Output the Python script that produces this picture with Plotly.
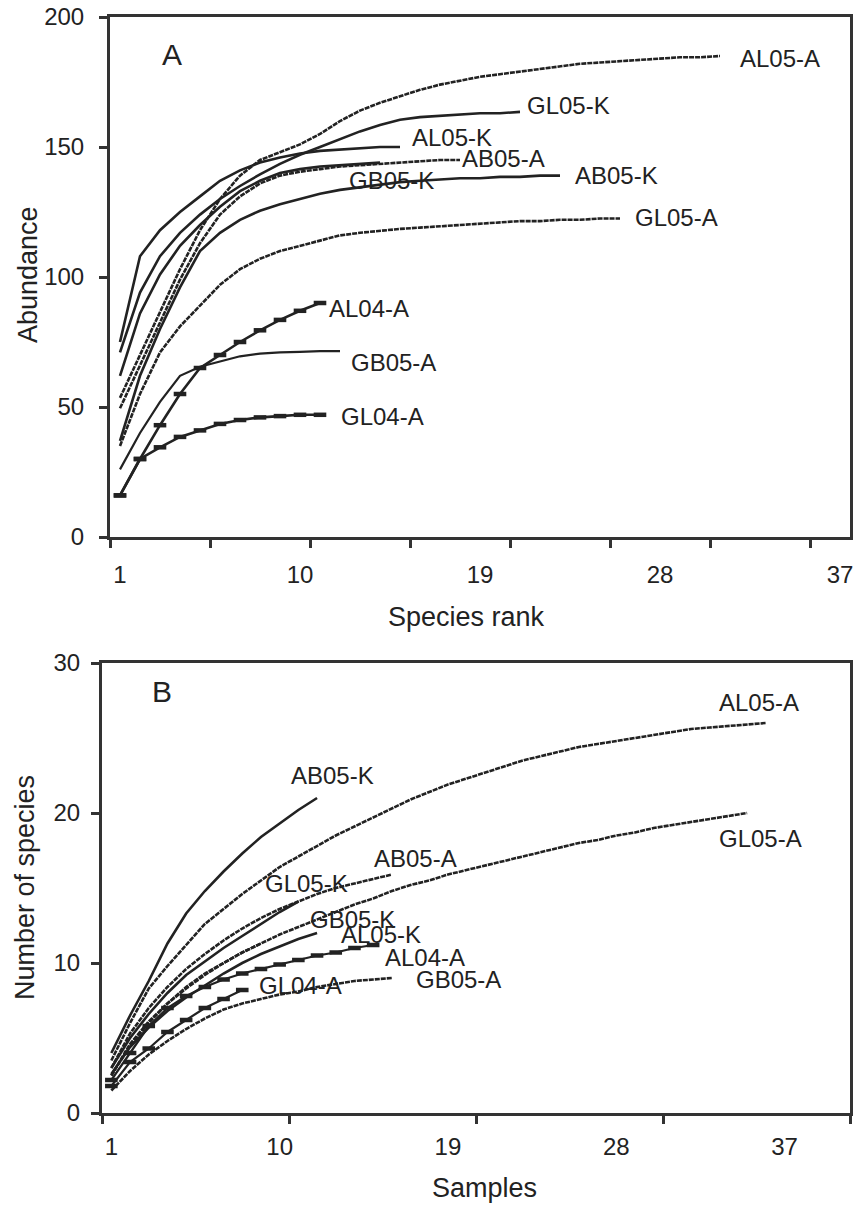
import plotly.graph_objects as go

# ---------------- Panel A: abundance vs species rank ----------------
A_AL05_A = [53.5, 70, 87, 103, 118, 130, 139, 145, 148, 151, 155, 160, 164, 167, 169.5, 172,
            174, 175.5, 177, 178, 179, 180, 181, 182, 182.5, 183, 183.5, 184, 184.5, 184.5, 185]
A_GL05_K = [71, 94, 108, 117, 124, 130, 135, 139.5, 143.5, 147, 150, 153, 156, 158.5, 160.5,
            161.5, 162, 162.5, 163, 163, 163.5]
A_AL05_K = [75, 108, 118, 125, 131, 137, 141, 144, 146, 147.5, 148.5, 149, 149.5, 150, 150]
A_AB05_A = [49.5, 66, 83, 99, 113, 124, 131, 136, 139, 140.5, 141.5, 142.5, 143, 143.5, 144,
            144.5, 145, 145]
A_GB05_K = [62, 86, 101, 112, 120, 127, 133, 137, 140, 141.5, 142.5, 143, 143.5, 144]
A_AB05_K = [37, 62, 80, 96, 110, 117, 122, 125.5, 128, 130, 132, 133.5, 134.5, 135.5, 136.5,
            137, 137.5, 138, 138, 138.5, 138.5, 139, 139]
A_GL05_A = [35, 55, 71, 81, 89, 97, 103, 107, 110, 112, 114, 116, 117, 117.8, 118.5, 119,
            119.5, 120, 120.5, 121, 121.5, 121.5, 122, 122, 122.5, 122.5]
A_AL04_A = [16, 30, 43, 55, 65, 70, 75, 79.5, 83.5, 87, 90]
A_GB05_A = [26, 40, 52, 62, 65.5, 67.5, 69.5, 70.5, 71, 71.2, 71.5, 71.5]
A_GL04_A = [16, 30, 34.5, 38.5, 41, 43.5, 45, 46, 46.5, 47, 47]

A_TICKS = [1, 10, 19, 28, 37]
A_YTICKS = [0, 50, 100, 150, 200]

# ---------------- Panel B: species vs samples ----------------
B_AL05_A = [3.5, 6, 8.3, 9.8, 11.2, 12.6, 13.6, 14.6, 15.5, 16.4, 17.1, 17.8, 18.5, 19.1,
            19.7, 20.3, 20.9, 21.4, 21.9, 22.3, 22.7, 23.1, 23.5, 23.8, 24.1, 24.4, 24.6,
            24.8, 25, 25.2, 25.4, 25.6, 25.7, 25.8, 25.9, 26]
B_GL05_A = [2.5, 4.5, 6, 7.3, 8.4, 9.3, 10, 10.7, 11.3, 11.9, 12.4, 12.9, 13.4, 13.9, 14.3,
            14.8, 15.2, 15.5, 15.9, 16.2, 16.5, 16.8, 17.1, 17.4, 17.7, 18, 18.2, 18.5, 18.7,
            19, 19.2, 19.4, 19.6, 19.8, 20]
B_AB05_K = [4, 6.5, 8.8, 11.3, 13.3, 14.8, 16.1, 17.3, 18.4, 19.3, 20.2, 21]
B_AB05_A = [3, 5.3, 7, 8.4, 9.6, 10.6, 11.5, 12.3, 13, 13.6, 14.1, 14.6, 15, 15.3, 15.6, 15.9]
B_GL05_K = [3, 5, 6.6, 8, 9.2, 10.1, 11, 11.8, 12.6, 13.4, 14.1]
B_GB05_K = [2.6, 4.4, 5.7, 6.8, 7.7, 8.5, 9.3, 10, 10.6, 11.1, 11.6, 12]
B_AL05_K = [2.5, 4.6, 6.1, 7.3, 8.3, 9.2, 10, 10.7, 11.3]
B_AL04_A = [2.2, 4, 5.8, 7, 7.8, 8.4, 8.9, 9.3, 9.6, 9.9, 10.2, 10.5, 10.7, 11, 11.2]
B_GL04_A = [1.8, 3.4, 4.3, 5.4, 6.2, 7, 7.6, 8.2]
B_GB05_A = [1.5, 2.8, 3.9, 4.8, 5.6, 6.3, 6.9, 7.3, 7.6, 7.9, 8.1, 8.4, 8.6, 8.8, 8.9, 9]

B_TICKS = [1, 10, 19, 28, 37]
B_YTICKS = [0, 10, 20, 30]

W, H = 853, 1210
INK = "#222222"
AXC = "#333333"
FONT = "Liberation Sans, Arial, sans-serif"

fig = go.Figure()


def add(vals, style, xa, ya, width=2.6):
    xs = list(range(1, len(vals) + 1))
    line = dict(color=INK, width=width)
    mode = "lines"
    marker = None
    if style == "dash":
        line["dash"] = "5px,1px"
    elif style == "block":
        mode = "lines+markers"
        marker = dict(symbol="line-ew", size=9, color=INK,
                      line=dict(color=INK, width=4.5))
    tr = go.Scatter(x=xs, y=vals, mode=mode, line=line, xaxis=xa, yaxis=ya,
                    showlegend=False, hoverinfo="skip", cliponaxis=False)
    if marker:
        tr.marker = marker
    fig.add_trace(tr)


# Panel A traces
add(A_AL05_A, "dash", "x", "y")
add(A_GL05_K, "solid", "x", "y")
add(A_AL05_K, "solid", "x", "y")
add(A_AB05_A, "dash", "x", "y")
add(A_GB05_K, "solid", "x", "y")
add(A_AB05_K, "solid", "x", "y")
add(A_GL05_A, "dash", "x", "y")
add(A_AL04_A, "block", "x", "y")
add(A_GB05_A, "solid", "x", "y", width=2.2)
add(A_GL04_A, "block", "x", "y")

# Panel B traces
add(B_AL05_A, "dash", "x2", "y2")
add(B_GL05_A, "dash", "x2", "y2")
add(B_AB05_K, "solid", "x2", "y2")
add(B_AB05_A, "dash", "x2", "y2")
add(B_GL05_K, "solid", "x2", "y2")
add(B_GB05_K, "solid", "x2", "y2")
add(B_AL05_K, "dash", "x2", "y2")
add(B_AL04_A, "block", "x2", "y2", width=2.2)
add(B_GL04_A, "block", "x2", "y2", width=2.2)
add(B_GB05_A, "dash", "x2", "y2")

tickfont = dict(family=FONT, size=24, color=INK)

common_x = dict(showline=True, linecolor=AXC, linewidth=3, mirror=True, showgrid=False,
                zeroline=False, ticks="", tickmode="array", tickfont=tickfont,
                automargin=False, ticklabeloverflow="allow")
common_y = dict(showline=True, linecolor=AXC, linewidth=3, mirror=True, showgrid=False,
                zeroline=False, ticks="outside", ticklen=8, tickwidth=3, tickcolor=AXC,
                tickmode="array", tickfont=tickfont, automargin=False,
                ticklabeloverflow="allow")

fig.update_layout(
    template="none",
    width=W, height=H, autosize=False,
    margin=dict(l=0, r=0, t=0, b=0, pad=0),
    paper_bgcolor="white", plot_bgcolor="white",
    xaxis=dict(common_x, domain=[110 / W, 850 / W], range=[0.5, 37.5], anchor="y",
               tickvals=A_TICKS, ticktext=[str(t) for t in A_TICKS], ticklabelstandoff=14,
               minor=dict(tickmode="array", tickvals=[0.5 + 5 * i for i in range(8)],
                          ticks="outside", ticklen=8, tickwidth=3, tickcolor=AXC,
                          showgrid=False)),
    yaxis=dict(common_y, domain=[1 - 537 / H, 1 - 17 / H], range=[0, 200], anchor="x",
               tickvals=A_YTICKS, ticklabelstandoff=10),
    xaxis2=dict(common_x, domain=[102 / W, 850 / W], range=[0.5, 40.5], anchor="y2",
                tickvals=B_TICKS, ticktext=[str(t) for t in B_TICKS], ticklabelstandoff=10,
                minor=dict(tickmode="array", tickvals=[0.5 + 10 * i for i in range(5)],
                           ticks="outside", ticklen=8, tickwidth=3, tickcolor=AXC,
                           showgrid=False)),
    yaxis2=dict(common_y, domain=[1 - 1113 / H, 1 - 663 / H], range=[0, 30], anchor="x2",
                tickvals=B_YTICKS, ticklabelstandoff=6),
)

lab_font = dict(family=FONT, size=24, color=INK)

A_LABELS = [("AL05-A", 31.9, 184), ("GL05-K", 21.25, 165.8), ("AL05-K", 15.5, 153.8),
            ("AB05-A", 18.0, 145.4), ("AB05-K", 23.65, 139.2), ("GL05-A", 26.65, 123),
            ("GB05-K", 12.35, 137.3), ("AL04-A", 11.35, 88), ("GB05-A", 12.45, 67.3),
            ("GL04-A", 11.95, 46.2)]
B_LABELS = [("AL05-A", 33.4, 27.4), ("GL05-A", 33.4, 18.3), ("AB05-K", 10.5, 22.5),
            ("AB05-A", 14.94, 17.0), ("GL05-K", 9.1, 15.3), ("GB05-K", 11.5, 12.9),
            ("AL05-K", 13.2, 11.9), ("AL04-A", 15.5, 10.4), ("GB05-A", 17.2, 8.9),
            ("GL04-A", 8.8, 8.5)]

ann = []
for t, x, y in A_LABELS:
    ann.append(dict(text=t, x=x, y=y, xref="x", yref="y", xanchor="left", yanchor="middle",
                    showarrow=False, font=lab_font))
for t, x, y in B_LABELS:
    ann.append(dict(text=t, x=x, y=y, xref="x2", yref="y2", xanchor="left", yanchor="middle",
                    showarrow=False, font=lab_font))

ann.append(dict(text="A", x=3.6, y=185.4, xref="x", yref="y", showarrow=False,
                xanchor="center", yanchor="middle",
                font=dict(family=FONT, size=30, color=INK)))
ann.append(dict(text="B", x=3.7, y=28.1, xref="x2", yref="y2", showarrow=False,
                xanchor="center", yanchor="middle",
                font=dict(family=FONT, size=30, color=INK)))

title_font = dict(family=FONT, size=27, color=INK)
TITLES = [("Abundance", 28, 275, -90), ("Species rank", 467, 617, 0),
          ("Number of species", 25, 888, -90), ("Samples", 485, 1188, 0)]
for t, px, py, ang in TITLES:
    ann.append(dict(text=t, x=px / W, y=1 - py / H, xref="paper", yref="paper",
                    textangle=ang, xanchor="center", yanchor="middle",
                    showarrow=False, font=title_font))

fig.update_layout(annotations=ann)

fig.write_html(
    "out.html",
    config={"displayModeBar": False},
    post_script="document.body.style.margin='0';document.body.style.overflow='hidden';"
                "document.documentElement.style.overflow='hidden';",
)
